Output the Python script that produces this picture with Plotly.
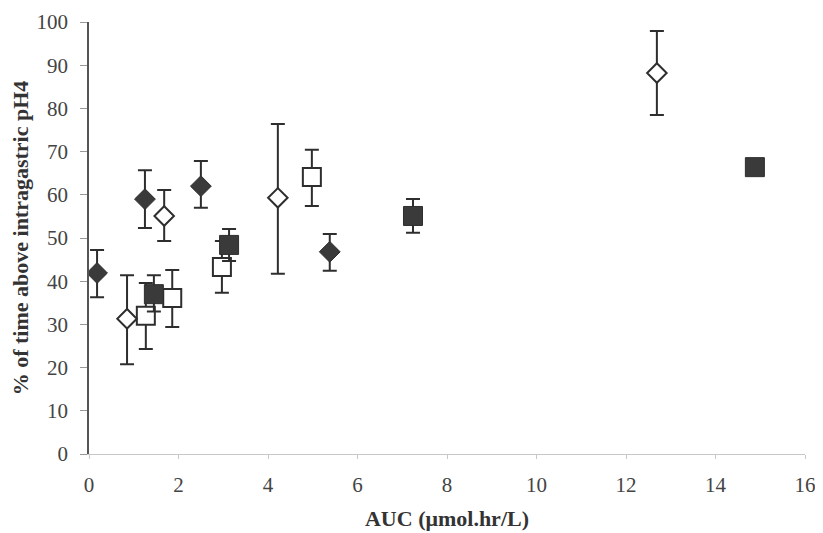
import plotly.graph_objects as go

# Series: filled diamonds
fd_x = [0.18, 1.25, 2.5, 5.38]
fd_y = [41.9, 59.0, 62.0, 46.8]
fd_up = [5.3, 6.7, 5.8, 4.1]
fd_dn = [5.6, 6.7, 5.0, 4.4]

# Series: open diamonds
od_x = [0.85, 1.68, 4.22, 12.69]
od_y = [31.3, 55.1, 59.3, 88.2]
od_up = [10.1, 6.0, 17.1, 9.7]
od_dn = [10.5, 5.8, 17.6, 9.7]

# Series: open squares
os_x = [1.27, 1.86, 2.97, 4.98]
os_y = [32.0, 36.1, 43.3, 64.1]
os_up = [7.6, 6.5, 6.0, 6.3]
os_dn = [7.7, 6.7, 6.0, 6.7]

# Series: filled squares
fs_x = [1.45, 3.13, 7.24, 14.88]
fs_y = [37.0, 48.4, 55.1, 66.4]
fs_up = [4.4, 3.7, 3.9, 0.0]
fs_dn = [4.0, 3.7, 3.9, 0.0]

x_ticks = [0, 2, 4, 6, 8, 10, 12, 14, 16]
y_ticks = [0, 10, 20, 30, 40, 50, 60, 70, 80, 90, 100]

DARK = "#3a3a3a"
LINE = "#2e2e2e"

def err(up, dn):
    return dict(type="data", symmetric=False, array=up, arrayminus=dn,
                color=LINE, thickness=2, width=7)

fig = go.Figure()
fig.add_trace(go.Scatter(x=os_x, y=os_y, mode="markers", error_y=err(os_up, os_dn),
                         marker=dict(symbol="square", size=18, color="white",
                                     line=dict(color=LINE, width=2))))
fig.add_trace(go.Scatter(x=od_x, y=od_y, mode="markers", error_y=err(od_up, od_dn),
                         marker=dict(symbol="diamond", size=15, color="white",
                                     line=dict(color=LINE, width=2))))
fig.add_trace(go.Scatter(x=fs_x, y=fs_y, mode="markers", error_y=err(fs_up, fs_dn),
                         marker=dict(symbol="square", size=19, color=DARK,
                                     line=dict(color=LINE, width=1))))
fig.add_trace(go.Scatter(x=fd_x, y=fd_y, mode="markers", error_y=err(fd_up, fd_dn),
                         marker=dict(symbol="diamond", size=16, color=DARK,
                                     line=dict(color=LINE, width=1))))

font_fam = "Liberation Serif, Times New Roman, serif"
fig.update_layout(
    width=815, height=525,
    margin=dict(l=81, r=18, t=14, b=79),
    paper_bgcolor="white", plot_bgcolor="white",
    showlegend=False,
    font=dict(family=font_fam, color="#333333"),
    xaxis=dict(range=[0, 16], tickvals=x_ticks, ticktext=[str(v) for v in x_ticks],
               automargin=False,
               showgrid=False, zeroline=False, showline=True, linecolor="#c8c8c8",
               linewidth=1, ticks="outside", ticklen=4, tickcolor="#c8c8c8",
               ticklabelstandoff=8,
               tickfont=dict(size=21, color="#444444", family=font_fam),
               title=dict(text="<b>AUC (μmol.hr/L)</b>", standoff=14,
                          font=dict(size=22, color="#333333"))),
    yaxis=dict(range=[0, 100], tickvals=y_ticks, ticktext=[str(v) for v in y_ticks],
               automargin=False,
               showgrid=False, zeroline=False, showline=True, linecolor="#555555",
               linewidth=1.5, ticks="outside", ticklen=7, tickcolor="#999999",
               ticklabelstandoff=8,
               tickfont=dict(size=21, color="#444444", family=font_fam),
               title=dict(text="<b>% of time above intragastric pH4</b>", standoff=3,
                          font=dict(size=22, color="#333333"))),
)

fig.write_html("out.html")
